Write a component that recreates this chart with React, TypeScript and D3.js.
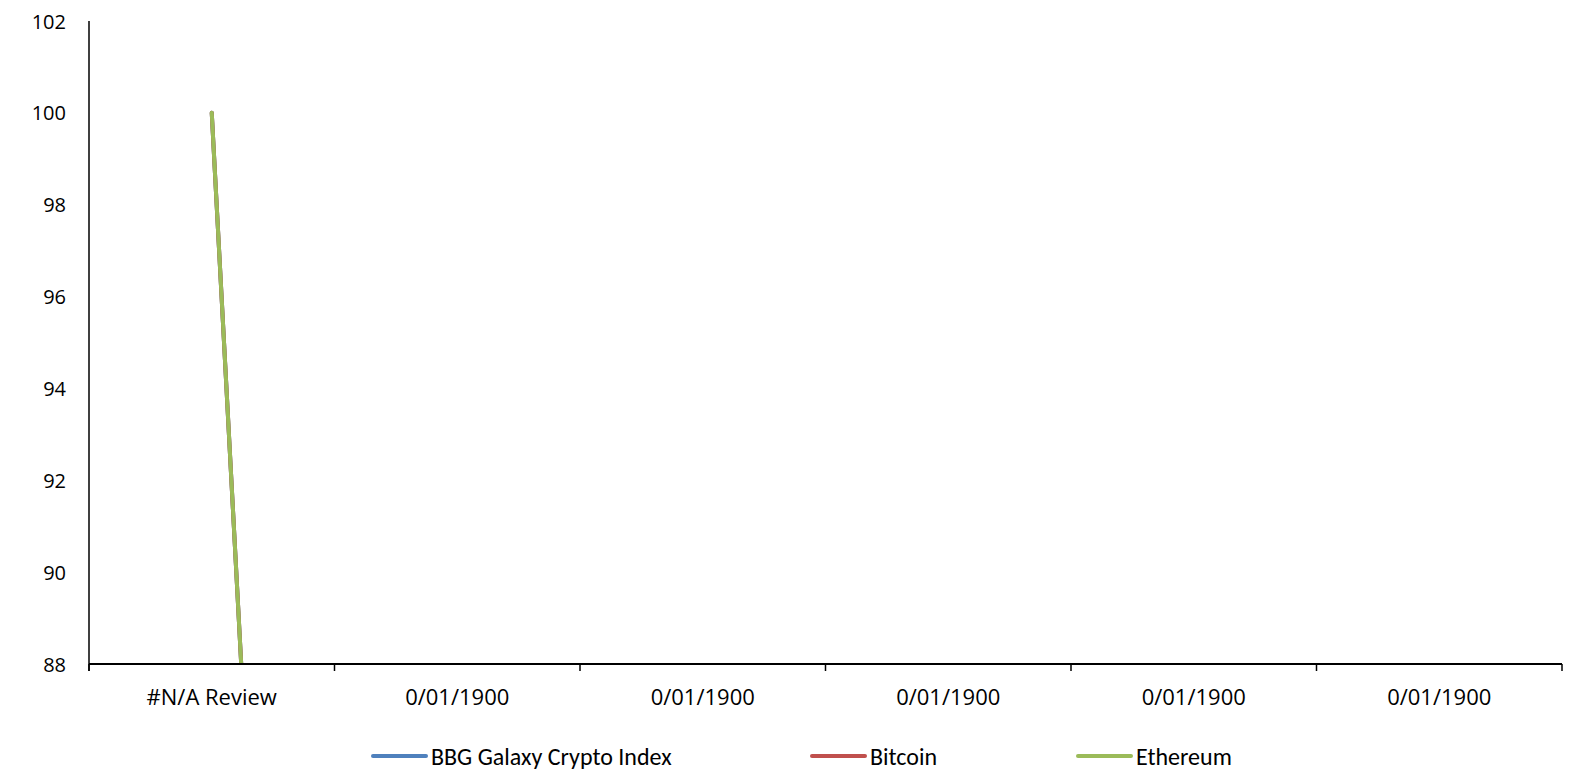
import React from 'react';
import * as d3 from 'd3';

const categories = ['#N/A Review', '0/01/1900', '0/01/1900', '0/01/1900', '0/01/1900', '0/01/1900'];
const galaxyIndex = [100, 0, 0, 0, 0, 0];
const bitcoin = [100, 0, 0, 0, 0, 0];
const ethereum = [100, 0, 0, 0, 0, 0];
const yTicks = [88, 90, 92, 94, 96, 98, 100, 102];

const seriesNames = ['BBG Galaxy Crypto Index', 'Bitcoin', 'Ethereum'];
const seriesColors = ['#4f81bd', '#c0504d', '#9bbb59'];

const W = 1592;
const H = 773;
const left = 89;
const right = 1562;
const top = 21;
const bottom = 664;
const axisFont = '"Open Sans", sans-serif';
const legendFont = 'Carlito, Calibri, Lato, sans-serif';

export default function App() {
  const x = d3.scaleBand<number>().domain(d3.range(categories.length)).range([left, right]);
  const y = d3.scaleLinear().domain([88, 102]).range([bottom, top]);
  const line = d3
    .line<number>()
    .x((d, i) => (x(i) as number) + x.bandwidth() / 2)
    .y(d => y(d));
  const allSeries = [galaxyIndex, bitcoin, ethereum];
  const tickXs = d3.range(categories.length + 1).map(i => left + i * x.bandwidth());
  const legendX = [373, 812, 1078];

  return (
    <svg
      width={W}
      height={H}
      style={{ position: 'absolute', left: 0, top: 0, background: '#fff' }}
    >
      <defs>
        <clipPath id="plot">
          <rect x={left} y={top - 2} width={right - left} height={bottom - top + 2} />
        </clipPath>
      </defs>
      {/* y axis */}
      <line x1={left} x2={left} y1={top} y2={bottom + 7} stroke="#000" strokeWidth={1.5} />
      {yTicks.map(t => (
        <text
          key={t}
          x={66}
          y={y(t)}
          textAnchor="end"
          dominantBaseline="central"
          fontFamily={axisFont}
          fontSize={20}
          fill="#000"
        >
          {t}
        </text>
      ))}
      {/* series */}
      <g clipPath="url(#plot)">
        {allSeries.map((s, k) => (
          <path
            key={k}
            d={line(s) || ''}
            fill="none"
            stroke={seriesColors[k]}
            strokeWidth={4}
            strokeLinecap="round"
            strokeLinejoin="round"
          />
        ))}
      </g>
      {/* x axis */}
      <line x1={left} x2={right} y1={bottom} y2={bottom} stroke="#000" strokeWidth={2} />
      {tickXs.map((tx, i) => (
        <line key={i} x1={tx} x2={tx} y1={bottom} y2={bottom + 7} stroke="#000" strokeWidth={1.5} />
      ))}
      {categories.map((c, i) => (
        <text
          key={i}
          x={(x(i) as number) + x.bandwidth() / 2}
          y={696}
          textAnchor="middle"
          dominantBaseline="central"
          fontFamily={axisFont}
          fontSize={22}
          fill="#000"
        >
          {c}
        </text>
      ))}
      {/* legend */}
      {seriesNames.map((n, k) => (
        <g key={n}>
          <line
            x1={legendX[k]}
            x2={legendX[k] + 53}
            y1={756}
            y2={756}
            stroke={seriesColors[k]}
            strokeWidth={4}
            strokeLinecap="round"
          />
          <text
            x={legendX[k] + 58}
            y={756}
            dominantBaseline="central"
            fontFamily={legendFont}
            fontSize={24}
            fill="#000"
          >
            {n}
          </text>
        </g>
      ))}
    </svg>
  );
}
